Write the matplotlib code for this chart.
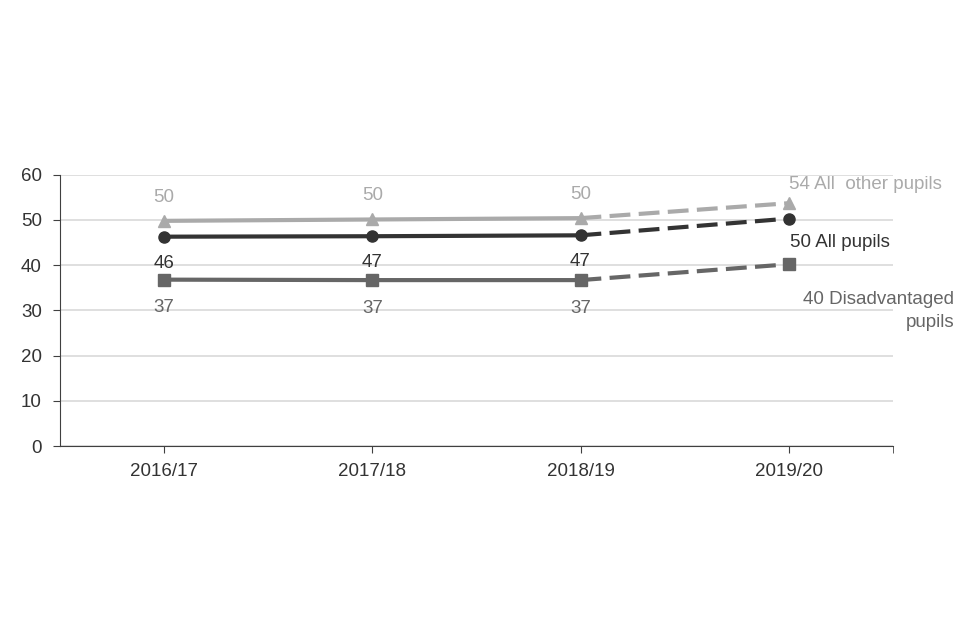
import matplotlib as mpl
mpl.use('Agg')
import matplotlib.pyplot as plt

plt.rcParams['font.family'] = ['Liberation Sans', 'DejaVu Sans']

years = ['2016/17', '2017/18', '2018/19', '2019/20']
other_pupils = [49.8, 50.1, 50.4, 53.7]
all_pupils = [46.3, 46.4, 46.6, 50.3]
disadvantaged = [36.8, 36.7, 36.7, 40.2]
other_labels = ['50', '50', '50']
all_labels = ['46', '47', '47']
dis_labels = ['37', '37', '37']

c_other = '#aaaaaa'
c_all = '#333333'
c_dis = '#666666'
fs = 13.5

fig = plt.figure(figsize=(9.6, 6.4), dpi=100)
ax = fig.add_axes([0.0625, 0.303, 0.8675, 0.424])

x = list(range(len(years)))
series = [(other_pupils, c_other, '^'), (all_pupils, c_all, 'o'), (disadvantaged, c_dis, 's')]
for vals, col, mk in series:
    ax.plot(x[:3], vals[:3], color=col, lw=3, marker=mk, ms=8, zorder=3)
    ax.plot(x[2:], vals[2:], color=col, lw=3, ls=(0, (5, 2)), zorder=3)
    ax.plot(x[3], vals[3], color=col, marker=mk, ms=8, zorder=3)

# point labels
for i in range(3):
    ax.annotate(other_labels[i], (x[i], other_pupils[i]), xytext=(0, 11), textcoords='offset points',
                ha='center', va='bottom', fontsize=fs, color=c_other)
    ax.annotate(all_labels[i], (x[i], all_pupils[i]), xytext=(0, -13), textcoords='offset points',
                ha='center', va='top', fontsize=fs, color=c_all)
    ax.annotate(dis_labels[i], (x[i], disadvantaged[i]), xytext=(0, -14), textcoords='offset points',
                ha='center', va='top', fontsize=fs, color=c_dis)

# end labels
ax.annotate('54 All  other pupils', (x[3], other_pupils[3]), xytext=(0, 7), textcoords='offset points',
            ha='left', va='bottom', fontsize=fs, color=c_other, annotation_clip=False)
ax.annotate('50 All pupils', (x[3], all_pupils[3]), xytext=(1, -11), textcoords='offset points',
            ha='left', va='top', fontsize=fs, color=c_all, annotation_clip=False)
ax.annotate('40 Disadvantaged\npupils', (x[3], disadvantaged[3]), xytext=(119, -19), textcoords='offset points',
            ha='right', va='top', fontsize=fs, color=c_dis, linespacing=1.45, annotation_clip=False)

ax.set_xlim(-0.5, 3.5)
ax.set_ylim(0, 60)
ax.set_yticks(range(0, 61, 10))
ax.set_xticks(x)
ax.set_xticklabels(years)
ax.set_xticks([3.5], minor=True)
ax.yaxis.grid(True, color='#d9d9d9', lw=1.2)
ax.set_axisbelow(True)
for s in ['top', 'right']:
    ax.spines[s].set_visible(False)
ax.spines['left'].set_color('#404040')
ax.spines['bottom'].set_color('#404040')
ax.tick_params(axis='both', which='both', colors='#404040', labelcolor='#333333', labelsize=fs, length=5)
ax.tick_params(axis='x', pad=7)
ax.tick_params(axis='y', pad=8)

fig.savefig('out.png')
